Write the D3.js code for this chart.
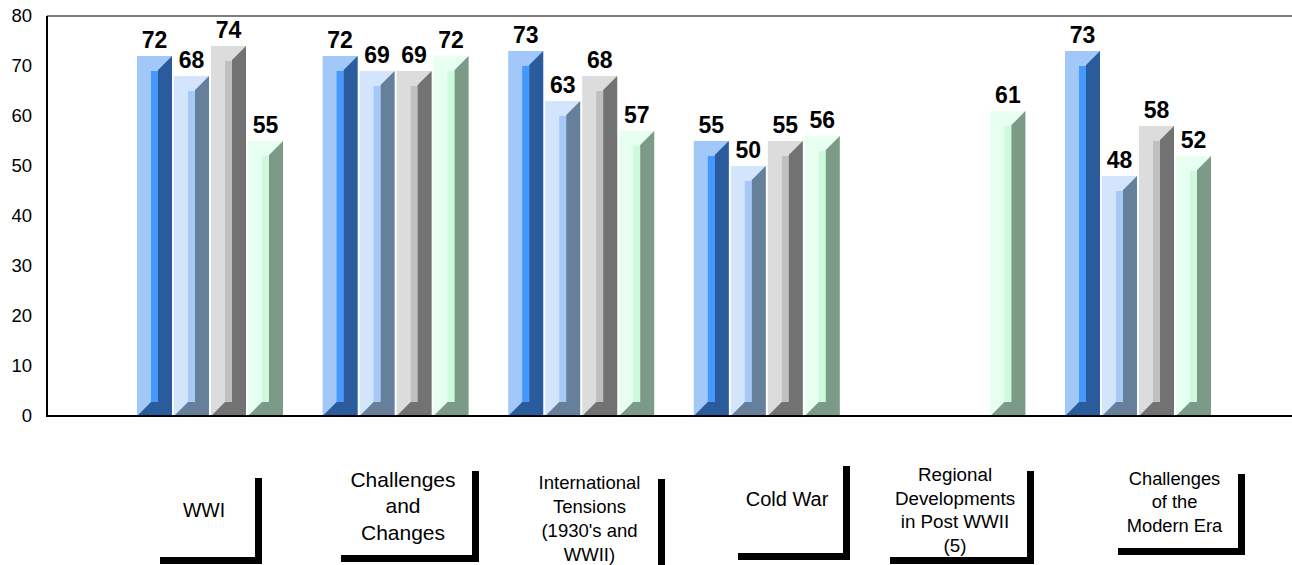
<!DOCTYPE html>
<html>
<head>
<meta charset="utf-8">
<script src="https://cdn.jsdelivr.net/npm/d3@7"></script>
<style>
  body { margin: 0; background: #fff; }
  svg { font-family: Arial, "Liberation Sans", sans-serif; }
</style>
</head>
<body>
<div id="content"></div>
<script>
const svgWidth = 1292, svgHeight = 565;

// data
const categories = ["WWI", "Challenges and Changes", "International Tensions", "Cold War", "Regional Developments", "Challenges of the Modern Era"];
const series = ["s1", "s2", "s3", "s4"];
const s1 = [72, 72, 73, 55, null, 73];
const s2 = [68, 69, 63, 50, null, 48];
const s3 = [74, 69, 68, 55, null, 58];
const s4 = [55, 72, 57, 56, 61, 52];
const yTicks = [0, 10, 20, 30, 40, 50, 60, 70, 80];

// category captions, one line per entry
const captions = [
  ["WWI"],
  ["Challenges", "and", "Changes"],
  ["International", "Tensions", "(1930's and", "WWII)"],
  ["Cold War"],
  ["Regional", "Developments", "in Post WWII", "(5)"],
  ["Challenges", "of the", "Modern Era"]
];

// caption boxes (layout only): x, y, w, h, font size, line step, text centre y
const boxes = [
  {x: 153, y: 471, w: 102, h: 86, fs: 19.5, step: 26, cy: 510},
  {x: 334, y: 464, w: 138, h: 91, fs: 21, step: 26.5, cy: 506},
  {x: 521, y: 472, w: 137, h: 100, fs: 18.5, step: 24, cy: 519},
  {x: 731, y: 459, w: 112, h: 94, fs: 20, step: 26, cy: 499},
  {x: 883, y: 464, w: 144, h: 93, fs: 18.8, step: 23.5, cy: 510},
  {x: 1111, y: 467, w: 127, h: 81, fs: 18.3, step: 23.5, cy: 502}
];

const palette = {
  s1: {light: "#a2c8f9", strip: "#4599fe", dark: "#2a5c9d"},
  s2: {light: "#d3e5fd", strip: "#a6c9f9", dark: "#66809c"},
  s3: {light: "#dcdcdc", strip: "#c0c0c0", dark: "#727272"},
  s4: {light: "#e6fff0", strip: "#cdf9dd", dark: "#7b9b87"}
};

const values = {s1, s2, s3, s4};

const svg = d3.select("#content").append("svg")
  .attr("width", svgWidth)
  .attr("height", svgHeight);

const y = d3.scaleLinear().domain([0, 80]).range([416, 16]);
const x = d3.scaleBand().domain(categories).range([117.2, 1230.8]);
const xs = d3.scaleBand().domain(series).range([0, 146]).paddingInner(2 / 37);
const groupOff = (x.bandwidth() - 146) / 2;

// frame
svg.append("line").attr("x1", 47).attr("x2", svgWidth).attr("y1", y(80)).attr("y2", y(80))
  .attr("stroke", "#7f7f7f").attr("stroke-width", 2);

// bars
const bars = [];
series.forEach(s => {
  values[s].forEach((v, i) => {
    if (v != null) bars.push({s, cat: categories[i], v});
  });
});

const dx = 14, dy = 14, sw = 7;
const g = svg.append("g");
bars.forEach(d => {
  const x0 = x(d.cat) + groupOff + xs(d.s);
  const w = xs.bandwidth();
  const top = y(d.v), base = y(0);
  const c = palette[d.s];
  g.append("rect").attr("x", x0).attr("y", top).attr("width", w).attr("height", base - top)
    .attr("fill", c.light);
  g.append("rect").attr("x", x0 + dx).attr("y", top + dy + 1).attr("width", sw)
    .attr("height", base - dy - top - dy - 1).attr("fill", c.strip);
  const pts = [
    [x0, base], [x0 + dx, base - dy], [x0 + dx + sw, base - dy],
    [x0 + dx + sw, top + dy], [x0 + w, top], [x0 + w, base]
  ];
  g.append("polygon").attr("points", pts.map(p => p.join(",")).join(" "))
    .attr("fill", c.dark);
  g.append("text").attr("x", x0 + w / 2).attr("y", top - 8)
    .attr("text-anchor", "middle").attr("font-size", 23).attr("font-weight", "bold")
    .text(d.v);
});

// axes lines
svg.append("line").attr("x1", 47).attr("x2", 47).attr("y1", y(80)).attr("y2", y(0) + 1)
  .attr("stroke", "#000").attr("stroke-width", 2);
svg.append("line").attr("x1", 46).attr("x2", svgWidth).attr("y1", y(0)).attr("y2", y(0))
  .attr("stroke", "#000").attr("stroke-width", 2);

const yAxis = svg.append("g").attr("transform", "translate(47,0)")
  .call(d3.axisLeft(y).tickValues(yTicks).tickSize(0).tickPadding(15));
yAxis.select(".domain").remove();
yAxis.selectAll("text").attr("font-size", 18.5).attr("font-family", "Arial, 'Liberation Sans', sans-serif")
  .attr("fill", "#000");

// caption boxes with drop shadow
const cap = svg.append("g");
boxes.forEach((b, i) => {
  cap.append("rect").attr("x", b.x + 7).attr("y", b.y + 7).attr("width", b.w).attr("height", b.h)
    .attr("fill", "#000");
  cap.append("rect").attr("x", b.x).attr("y", b.y).attr("width", b.w).attr("height", b.h)
    .attr("fill", "#fff");
  const lines = captions[i];
  const t = cap.append("text").attr("text-anchor", "middle").attr("font-size", b.fs);
  lines.forEach((l, k) => {
    t.append("tspan").attr("x", b.x + b.w / 2)
      .attr("y", b.cy + (k - (lines.length - 1) / 2) * b.step)
      .attr("dy", "0.35em").text(l);
  });
});
</script>
</body>
</html>
